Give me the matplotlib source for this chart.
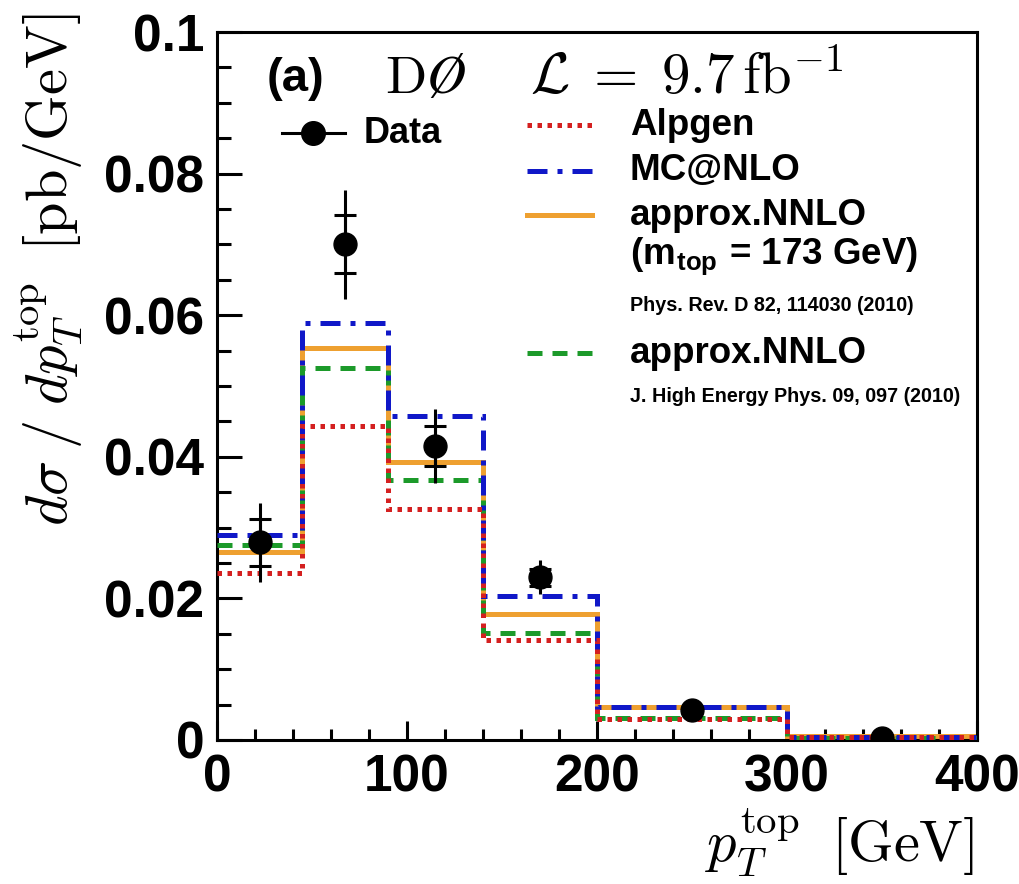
import matplotlib
matplotlib.use('Agg')
import matplotlib.pyplot as plt
import numpy as np
from matplotlib.ticker import MultipleLocator

plt.rcParams['mathtext.fontset'] = 'cm'
plt.rcParams['font.family'] = ['Liberation Sans', 'DejaVu Sans']

# bin edges in GeV
edges = [0, 45, 90, 140, 200, 300, 400]

# data points
data_x = [22.5, 67.5, 115, 170, 250, 350]
data_y = [0.0279, 0.0700, 0.0415, 0.0230, 0.0042, 0.0003]
err_tot = [0.0056, 0.0077, 0.0052, 0.0024, 0.0006, 0.0002]
err_stat = [0.0033, 0.0041, 0.0028, 0.0012, 0.0003, 0.0001]

# predictions
alpgen = [0.0236, 0.0443, 0.0326, 0.0141, 0.0030, 0.0004]
mcatnlo = [0.0290, 0.0589, 0.0458, 0.0204, 0.0047, 0.0004]
nnlo_kid = [0.0265, 0.0553, 0.0392, 0.0178, 0.0047, 0.0005]
nnlo_ahr = [0.0275, 0.0525, 0.0367, 0.0151, 0.0031, 0.0003]

c_red = '#d42020'
c_blue = '#1018c8'
c_orange = '#eea030'
c_green = '#1c9a2a'
ls_red = (0, (0.9, 1.1))
ls_blue = (0, (4, 2, 1, 2))
ls_green = (0, (3, 2))

fig = plt.figure(figsize=(10.2, 8.84), dpi=100)
ax = fig.add_axes([0.2127, 0.1629, 0.7451, 0.8009])

lw = 3.6
ax.stairs(nnlo_kid, edges, baseline=None, color=c_orange, lw=lw, zorder=2)
ax.stairs(nnlo_ahr, edges, baseline=None, color=c_green, lw=lw, ls=ls_green, zorder=3)
ax.stairs(mcatnlo, edges, baseline=None, color=c_blue, lw=lw, ls=ls_blue, zorder=4)
ax.stairs(alpgen, edges, baseline=None, color=c_red, lw=lw, ls=ls_red, zorder=5)

ax.errorbar(data_x, data_y, yerr=err_tot, fmt='none', ecolor='black', elinewidth=2.2, zorder=6)
ax.errorbar(data_x, data_y, yerr=err_stat, fmt='o', color='black', ms=16.5,
            elinewidth=2.2, capsize=8, capthick=2.2, zorder=7)

ax.set_xlim(0, 400)
ax.set_ylim(0, 0.1)
ax.xaxis.set_major_locator(MultipleLocator(100))
ax.xaxis.set_minor_locator(MultipleLocator(20))
ax.yaxis.set_minor_locator(MultipleLocator(0.005))
ax.set_yticks([0, 0.02, 0.04, 0.06, 0.08, 0.1])
ax.set_yticklabels(['0', '0.02', '0.04', '0.06', '0.08', '0.1'])
ax.tick_params(axis='both', which='both', direction='in', top=False, right=False,
               width=2.2, labelsize=37)
ax.tick_params(axis='y', which='major', length=18, pad=9)
ax.tick_params(axis='y', which='minor', length=10)
ax.tick_params(axis='x', which='major', length=14, pad=10)
ax.tick_params(axis='x', which='minor', length=8)
for lab in ax.get_xticklabels() + ax.get_yticklabels():
    lab.set_fontweight('bold')
for s in ax.spines.values():
    s.set_linewidth(2.2)

fig.text(0.048, 0.985, r'$d\sigma\;/\;dp_T^{\rm top}\;\;[\rm pb/GeV]$', rotation=90,
         fontsize=42, ha='center', va='top')
fig.text(0.955, 0.006, r'$p_T^{\rm top}\;\;[\rm GeV]$', fontsize=42, ha='right', va='bottom')

# header
tr = ax.transAxes
ax.text(0.066, 0.934, '(a)', transform=tr, fontsize=34, fontweight='bold', va='center')
ax.text(0.221, 0.934, r'$\mathrm{D}\O$', transform=tr, fontsize=39, va='center')
ax.text(0.412, 0.934, r'$\mathcal{L}\;=\;9.7\,\mathrm{fb}^{-1}$', transform=tr,
        fontsize=41, va='center')

# legend
ax.plot([0.086, 0.168], [0.858, 0.858], color='black', lw=2.2, transform=tr)
ax.plot([0.1265], [0.858], 'o', color='black', ms=17, transform=tr)
ax.text(0.193, 0.856, 'Data', transform=tr, fontsize=26, fontweight='bold', va='center')

lx = [0.408, 0.493]
tx = 0.543
fs = 26.5
ax.plot(lx, [0.8686, 0.8686], color=c_red, lw=lw, ls=ls_red, transform=tr)
ax.text(tx, 0.8686, 'Alpgen', transform=tr, fontsize=fs, fontweight='bold', va='center')
ax.plot(lx, [0.8037, 0.8037], color=c_blue, lw=lw, ls=ls_blue, transform=tr)
ax.text(tx, 0.8037, 'MC@NLO', transform=tr, fontsize=fs, fontweight='bold', va='center')
ax.plot(lx, [0.7415, 0.7415], color=c_orange, lw=lw, transform=tr)
ax.text(tx, 0.7415, 'approx.NNLO', transform=tr, fontsize=fs, fontweight='bold', va='center')
ax.text(tx, 0.6836, r'(m$_{\mathregular{top}}$ = 173 GeV)', transform=tr, fontsize=fs,
        fontweight='bold', va='center')
ax.text(tx, 0.613, 'Phys. Rev. D 82, 114030 (2010)', transform=tr, fontsize=14.2,
        fontweight='bold', va='center')
ax.plot(lx, [0.5466, 0.5466], color=c_green, lw=lw, ls=ls_green, transform=tr)
ax.text(tx, 0.5466, 'approx.NNLO', transform=tr, fontsize=fs, fontweight='bold', va='center')
ax.text(tx, 0.4845, 'J. High Energy Phys. 09, 097 (2010)', transform=tr, fontsize=14.2,
        fontweight='bold', va='center')

fig.savefig('out.png', dpi=100)
